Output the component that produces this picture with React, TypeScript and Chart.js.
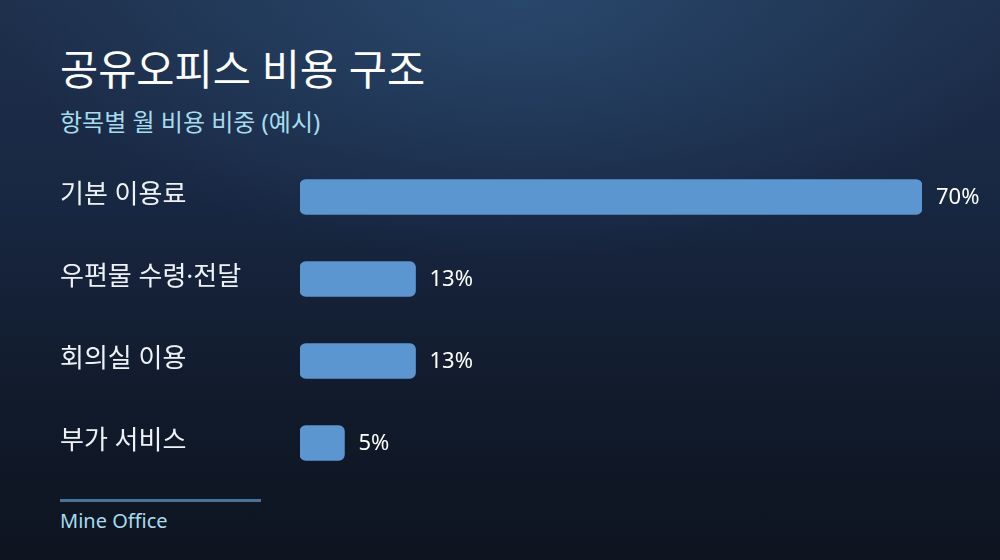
import { useEffect, useRef } from 'react'
import { Chart, registerables } from 'chart.js'
import type { Plugin } from 'chart.js'
Chart.register(...registerables)

const categories = ['기본 이용료', '우편물 수령·전달', '회의실 이용', '부가 서비스']
const shares = [70, 13, 13, 5]

const FONT = '"Noto Sans", "Noto Sans CJK KR", sans-serif'

const labelsPlugin: Plugin<'bar'> = {
  id: 'barLabels',
  afterDatasetsDraw(chart) {
    const { ctx } = chart
    const meta = chart.getDatasetMeta(0)
    const yScale = chart.scales.y
    ctx.save()
    ctx.textBaseline = 'middle'
    // category names on the left
    ctx.font = `26px ${FONT}`
    ctx.fillStyle = '#eef2f7'
    ctx.textAlign = 'left'
    categories.forEach((c, i) => {
      ctx.fillText(c, 60, yScale.getPixelForTick(i) - 1)
    })
    // value labels after each bar
    ctx.font = `22px ${FONT}`
    ctx.fillStyle = '#ffffff'
    meta.data.forEach((bar, i) => {
      const { x, y } = bar.getProps(['x', 'y'], true)
      ctx.fillText(`${shares[i]}%`, x + 14, y + 1)
    })
    ctx.restore()
  },
}

export default function App() {
  const ref = useRef<HTMLCanvasElement>(null)

  useEffect(() => {
    document.body.style.margin = '0'
    if (!ref.current) return
    const chart = new Chart(ref.current, {
      type: 'bar',
      data: {
        labels: categories,
        datasets: [{
          data: shares,
          backgroundColor: '#5b96d1',
          borderRadius: 6,
          borderSkipped: false,
          barThickness: 35,
        }],
      },
      options: {
        indexAxis: 'y',
        animation: false,
        responsive: false,
        maintainAspectRatio: false,
        layout: { padding: { left: 300, right: 78, top: 0, bottom: 0 } },
        plugins: { legend: { display: false }, tooltip: { enabled: false } },
        scales: {
          x: { display: false, min: 0, max: 70 },
          y: { display: false },
        },
      },
      plugins: [labelsPlugin],
    })
    return () => chart.destroy()
  }, [])

  return (
    <div style={{
      position: 'relative', width: 1000, height: 560, overflow: 'hidden', fontFamily: FONT,
      background: 'radial-gradient(ellipse 520px 260px at 52% 0%, rgba(48,86,128,0.6), rgba(48,86,128,0) 100%), linear-gradient(180deg, #1e304c 0%, #182742 35%, #111b2c 70%, #0e1420 100%)',
    }}>
      <div style={{ position: 'absolute', left: 60, top: 45, fontSize: 41.5, color: '#ffffff', fontWeight: 400, lineHeight: 1.2, whiteSpace: 'nowrap' }}>
        공유오피스 비용 구조
      </div>
      <div style={{ position: 'absolute', left: 60, top: 108, fontSize: 24, color: '#a6dcee', lineHeight: 1.2, whiteSpace: 'nowrap' }}>
        항목별 월 비용 비중 (예시)
      </div>
      <canvas ref={ref} width={1000} height={328} style={{ position: 'absolute', left: 0, top: 156, width: 1000, height: 328 }} />
      <div style={{ position: 'absolute', left: 60, top: 499, width: 201, height: 3, background: '#4a7299' }} />
      <div style={{ position: 'absolute', left: 60, top: 509, fontSize: 20, color: '#a6dcee', lineHeight: 1.2, whiteSpace: 'nowrap' }}>
        Mine Office
      </div>
    </div>
  )
}
